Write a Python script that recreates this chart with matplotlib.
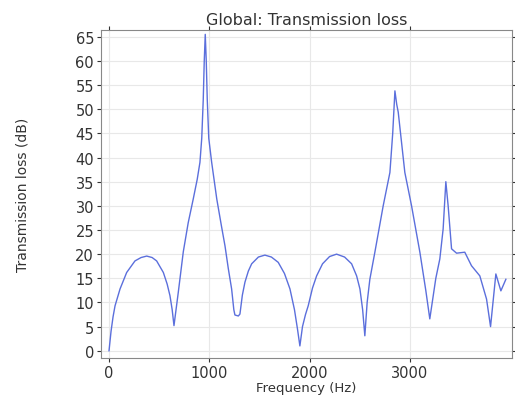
import matplotlib
matplotlib.use("Agg")
import matplotlib.pyplot as plt

# frequency (Hz) and transmission loss (dB)
freq = [0, 20, 40, 60, 110, 176, 259, 320, 376, 430, 475, 542, 580, 608, 630, 648,
        691, 741, 790, 840, 880, 907, 925, 940, 950, 960, 970, 980, 995, 1024,
        1075, 1120, 1157, 1190, 1223, 1245, 1256, 1290, 1306, 1330, 1356, 1390, 1423,
        1490, 1555, 1620, 1688, 1750, 1805, 1850, 1880, 1904, 1930, 1960, 1987,
        2030, 2071, 2130, 2200, 2270, 2350, 2420, 2470, 2503, 2530, 2552, 2575,
        2602, 2652, 2735, 2802, 2830, 2852, 2870, 2885, 2951, 3018, 3101, 3160,
        3200, 3260, 3300, 3333, 3360, 3383, 3417, 3467, 3549, 3616, 3699, 3766,
        3806, 3859, 3909, 3959]
tl = [0, 4, 7, 9.3, 12.8, 16.2, 18.6, 19.3, 19.6, 19.3, 18.6, 16.2, 13.8, 11.4, 8.5, 5.2,
      12.1, 20.5, 26.5, 31.4, 35.5, 39, 44, 52, 60, 65.5, 60, 52, 44, 39,
      31.4, 26, 21.7, 17, 12.8, 8.5, 7.4, 7.2, 7.6, 11.5, 14.2, 16.5, 18,
      19.4, 19.8, 19.4, 18.3, 16, 12.8, 8.5, 4.5, 1.0, 5, 7.5, 9.3,
      13, 15.5, 18, 19.5, 20, 19.4, 18, 15.5, 12.8, 8.5, 3.1, 10,
      14.8, 20.4, 30, 36.9, 45, 53.8, 51, 49.4, 36.9, 30, 20.4, 12.5,
      6.6, 15, 19, 25.2, 35, 30, 21.1, 20.2, 20.4, 17.6, 15.5, 10.7,
      5.0, 15.9, 12.4, 14.8]

xticks = [0, 1000, 2000, 3000]
yticks = list(range(0, 70, 5))

fig = plt.figure(figsize=(5.15, 4.02), dpi=100)
ax = fig.add_axes([101 / 515, 1 - 359 / 402, 411 / 515, 328 / 402])

ax.plot(freq, tl, color="#5b6fdc", linewidth=1.0)

ax.set_xlim(-80, 4020)
ax.set_ylim(-1.5, 66.4)
ax.set_xticks(xticks)
ax.set_yticks(yticks)
ax.grid(True, color="#e8e8e8", linewidth=0.8)
ax.tick_params(labelsize=10.5, colors="#333333", length=3, direction="out",
               right=True, top=True, pad=2)
for s in ax.spines.values():
    s.set_color("#888888")

ax.set_title("Global: Transmission loss", fontsize=11.5, color="#333333", pad=4)
ax.set_xlabel("Frequency (Hz)", fontsize=9.5, color="#333333", labelpad=1)
ax.set_ylabel("Transmission loss (dB)", fontsize=10, color="#333333", labelpad=33)

fig.savefig("out.png", dpi=100)
